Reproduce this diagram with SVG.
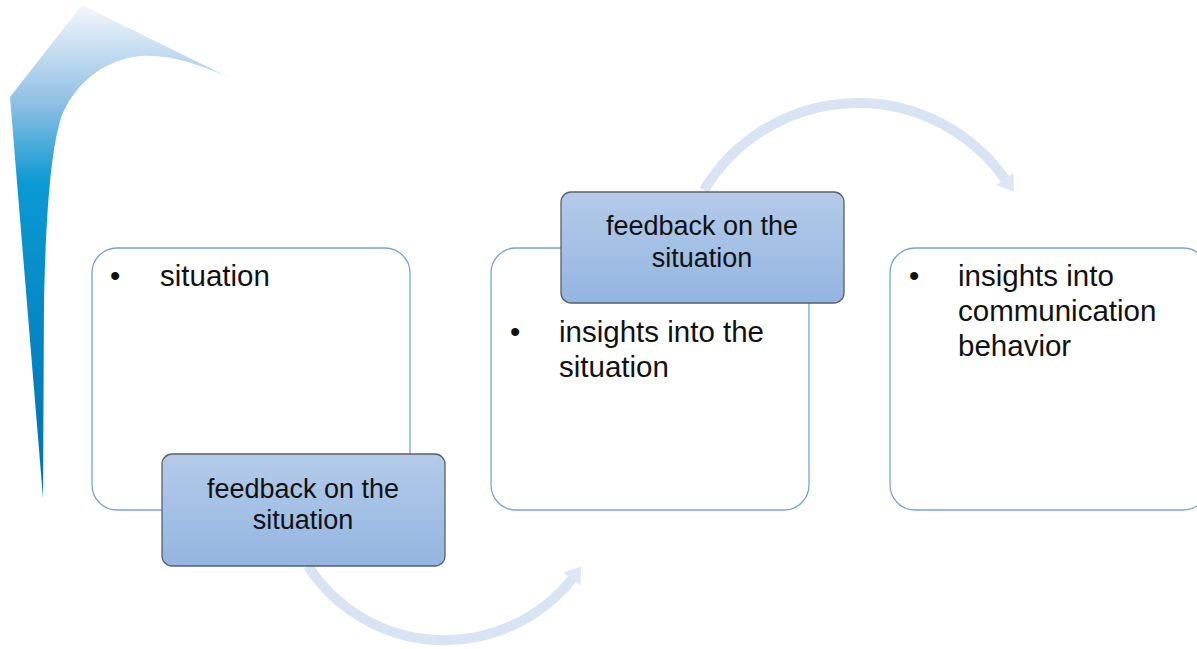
<svg xmlns="http://www.w3.org/2000/svg" width="1197" height="649" viewBox="0 0 1197 649">
  <style>
    .box { fill: #ffffff; stroke: #74a4dc; stroke-width: 1.3; }
    .fb { fill: url(#fbGrad); stroke: #5b5f66; stroke-width: 1.3; }
    .txt { font-family: "Liberation Sans", Arial, sans-serif; font-size: 29.5px; fill: #111111; }
    .fbt { font-family: "Liberation Sans", Arial, sans-serif; font-size: 27px; fill: #111111; text-anchor: middle; }
    .arc { fill: none; stroke: #d8e3f3; stroke-width: 10; }
    .head { fill: #dce6f4; }
  </style>
  <defs>
    <linearGradient id="swoosh" gradientUnits="userSpaceOnUse" x1="0" y1="5" x2="0" y2="498">
      <stop offset="0" stop-color="#f3f7fc"/>
      <stop offset="0.2" stop-color="#8fbfe4"/>
      <stop offset="0.36" stop-color="#0b9ad3"/>
      <stop offset="1" stop-color="#0070b2"/>
    </linearGradient>
    <linearGradient id="fbGrad" x1="0" y1="0" x2="0" y2="1">
      <stop offset="0" stop-color="#b4cbe9"/>
      <stop offset="1" stop-color="#93b5e1"/>
    </linearGradient>
  </defs>

  <g id="swoosh-arrow">
    <path d="M 43 498 L 10 97 L 82 5 L 228 77 C 195 62, 160 52, 133 57 C 100 63, 75 85, 62 115 C 50 150, 46 220, 44 300 L 43 498 Z" fill="url(#swoosh)"/>
  </g>

  <g id="box1">
    <rect class="box" x="92" y="248" width="318" height="262" rx="25" ry="25"/>
    <text class="txt" x="110" y="286">•</text>
    <text class="txt" x="160" y="286">situation</text>
  </g>

  <g id="box2">
    <rect class="box" x="491" y="248" width="318" height="262" rx="25" ry="25"/>
    <text class="txt" x="510" y="342">•</text>
    <text class="txt" x="559" y="342">insights into the</text>
    <text class="txt" x="559" y="377">situation</text>
  </g>

  <g id="box3">
    <rect class="box" x="890" y="248" width="318" height="262" rx="25" ry="25"/>
    <text class="txt" x="909" y="286">•</text>
    <text class="txt" x="958" y="286">insights into</text>
    <text class="txt" x="958" y="321">communication</text>
    <text class="txt" x="958" y="356">behavior</text>
  </g>

  <g id="connectors">
    <path class="arc" d="M 308 566 A 163 163 0 0 0 572 579"/>
    <polygon class="head" points="581,566.5 580.5,585.2 563.5,572.8"/>
    <path class="arc" d="M 704 190 A 180 180 0 0 1 1005 179"/>
    <polygon class="head" points="1013.8,191.5 1013.6,172.8 996.4,185.2"/>
  </g>

  <g id="feedback1">
    <rect class="fb" x="162" y="454" width="283" height="112" rx="10" ry="10"/>
    <text class="fbt" x="303" y="498">feedback on the</text>
    <text class="fbt" x="303" y="529">situation</text>
  </g>

  <g id="feedback2">
    <rect class="fb" x="561" y="192" width="283" height="111" rx="10" ry="10"/>
    <text class="fbt" x="702" y="235">feedback on the</text>
    <text class="fbt" x="702" y="267">situation</text>
  </g>
</svg>
